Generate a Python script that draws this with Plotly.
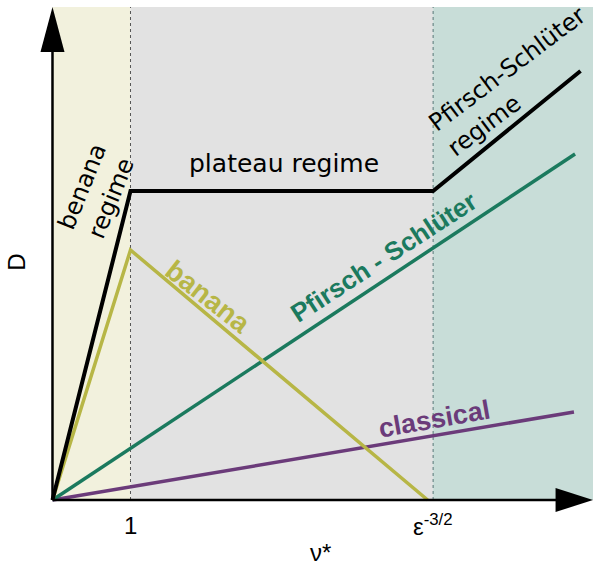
import plotly.graph_objects as go

# ---- data (schematic units: nu* on x, D on y) ----
NU_ONE = 1.0
NU_EPS = 4.88          # epsilon^-3/2
Y_AXIS_END = 4.93

total_x = [0.0, 1.0, 4.88, 6.77]
total_y = [0.0, 3.09, 3.09, 4.29]

banana_x = [0.0, 1.0, 4.81]
banana_y = [0.0, 2.50, 0.0]

ps_x = [0.0, 6.70]
ps_y = [0.0, 3.46]

classical_x = [0.0, 6.686]
classical_y = [0.0, 0.88]

tick_vals = [NU_ONE, NU_EPS]
tick_text = ["1", "ε<sup>-3/2</sup>"]

BLACK = "#000000"
OLIVE = "#b7b646"
GREEN = "#1b7a5e"
PURPLE = "#6b3b7a"
FONT = "Liberation Sans"
FONT2 = "DejaVu Sans"

fig = go.Figure()

shapes = [
    dict(type="rect", x0=0, x1=NU_ONE, y0=0, y1=Y_AXIS_END, fillcolor="#f2f1dd", line_width=0, layer="below"),
    dict(type="rect", x0=NU_ONE, x1=NU_EPS, y0=0, y1=Y_AXIS_END, fillcolor="#e2e2e2", line_width=0, layer="below"),
    dict(type="rect", x0=NU_EPS, x1=7.0, y0=0, y1=Y_AXIS_END, fillcolor="#c8ddd8", line_width=0, layer="below"),
    dict(type="line", x0=NU_ONE, x1=NU_ONE, y0=0, y1=Y_AXIS_END, line=dict(color="#555555", width=1, dash="dot"), layer="below"),
    dict(type="line", x0=NU_EPS, x1=NU_EPS, y0=0, y1=Y_AXIS_END, line=dict(color="#557777", width=1, dash="dot"), layer="below"),
    dict(type="line", x0=0, x1=6.5, y0=0, y1=0, line=dict(color=BLACK, width=2.5)),
    dict(type="line", x0=0, x1=0, y0=0, y1=4.5, line=dict(color=BLACK, width=2.5)),
    dict(type="path", path="M 0 4.93 L -0.154 4.48 L 0.154 4.48 Z", fillcolor=BLACK, line_width=0),
    dict(type="path", path="M 6.93 0 L 6.45 0.12 L 6.45 -0.12 Z", fillcolor=BLACK, line_width=0),
]

fig.add_trace(go.Scatter(x=classical_x, y=classical_y, mode="lines", line=dict(color=PURPLE, width=3.5), showlegend=False))
fig.add_trace(go.Scatter(x=ps_x, y=ps_y, mode="lines", line=dict(color=GREEN, width=3.5), showlegend=False))
fig.add_trace(go.Scatter(x=banana_x, y=banana_y, mode="lines", line=dict(color=OLIVE, width=3.5), showlegend=False))
fig.add_trace(go.Scatter(x=total_x, y=total_y, mode="lines", line=dict(color=BLACK, width=4), showlegend=False))

annotations = [
    dict(x=0.56, y=3.08, text="benana<br>regime", textangle=-68, font=dict(size=24, color=BLACK, family=FONT2)),
    dict(x=2.97, y=3.37, text="plateau regime", font=dict(size=25, color=BLACK, family=FONT2)),
    dict(x=5.95, y=4.19, text="Pfirsch-Schlüter<br>regime", textangle=-37, align="left",
         font=dict(size=24, color=BLACK, family=FONT2)),
    dict(x=4.25, y=2.43, text="<b>Pfirsch - Schlüter</b>", textangle=-33, font=dict(size=26, color=GREEN, family=FONT)),
    dict(x=1.99, y=2.04, text="<b>banana</b>", textangle=38, font=dict(size=28, color=OLIVE, family=FONT)),
    dict(x=4.90, y=0.81, text="<b>classical</b>", textangle=-10, font=dict(size=27, color=PURPLE, family=FONT)),
    dict(x=tick_vals[0], y=-0.25, text=tick_text[0], font=dict(size=24, color=BLACK, family=FONT)),
    dict(x=tick_vals[1], y=-0.25, text=tick_text[1], font=dict(size=24, color=BLACK, family=FONT)),
    dict(x=3.43, y=-0.52, text="ν*", font=dict(size=24, color=BLACK, family=FONT)),
    dict(x=-0.47, y=2.38, text="D", textangle=-90, font=dict(size=24, color=BLACK, family=FONT)),
]
for a in annotations:
    a.update(xref="x", yref="y", showarrow=False)

fig.update_layout(
    width=593, height=566,
    margin=dict(l=0, r=0, t=0, b=0),
    paper_bgcolor="white", plot_bgcolor="white",
    xaxis=dict(range=[-0.673, 6.93], visible=False, fixedrange=True),
    yaxis=dict(range=[-0.66, 5.0], visible=False, fixedrange=True),
    shapes=shapes,
    annotations=annotations,
)

fig.write_html("out.html", config={"displayModeBar": False},
               post_script="document.body.style.margin='0px';document.body.style.overflow='hidden';")
